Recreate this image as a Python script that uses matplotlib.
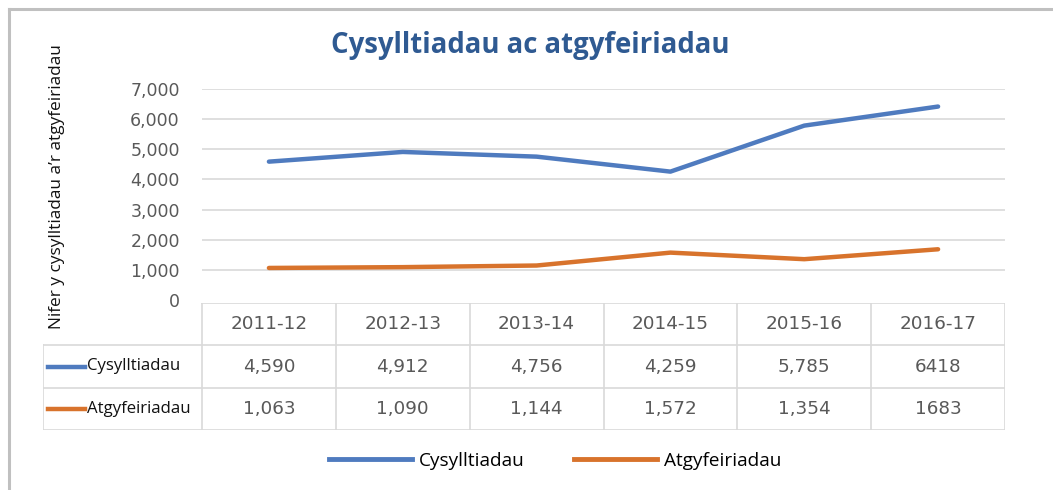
import matplotlib
matplotlib.use("Agg")
import matplotlib.pyplot as plt
from matplotlib.lines import Line2D
import numpy as np

plt.rcParams["font.family"] = ["Open Sans", "DejaVu Sans"]

# --- data ---
YEARS = ["2011-12", "2012-13", "2013-14", "2014-15", "2015-16", "2016-17"]
CYSYLLTIADAU = [4590, 4912, 4756, 4259, 5785, 6418]
ATGYFEIRIADAU = [1063, 1090, 1144, 1572, 1354, 1683]
# labels exactly as printed in the table
CYS_LABELS = ["4,590", "4,912", "4,756", "4,259", "5,785", "6418"]
ATG_LABELS = ["1,063", "1,090", "1,144", "1,572", "1,354", "1683"]
SERIES = ["Cysylltiadau", "Atgyfeiriadau"]
Y_TICKS = [0, 1000, 2000, 3000, 4000, 5000, 6000, 7000]

TITLE = "Cysylltiadau ac atgyfeiriadau"
YLABEL = "Nifer y cysylltiadau a\u2019r atgyfeiriadau"

BLUE = "#4f7bbf"
ORANGE = "#d8732c"
GRID = "#d9d9d9"
TICK_GREY = "#595959"
NUM_FONT = "DejaVu Sans"

W, H = 1053, 490
fig = plt.figure(figsize=(W / 100, H / 100), dpi=100)


def px_box(x0, y0, x1, y1):
    return [x0 / W, 1 - y1 / H, (x1 - x0) / W, (y1 - y0) / H]


# outer frame (left + top edges visible)
fig.add_artist(Line2D([9 / W, 9 / W], [0, 1 - 9 / H], transform=fig.transFigure,
                      color="#c0c0c0", linewidth=2.2))
fig.add_artist(Line2D([9 / W, 1], [1 - 9 / H, 1 - 9 / H], transform=fig.transFigure,
                      color="#c0c0c0", linewidth=2.2))

# --- main line chart ---
ax = fig.add_axes(px_box(202, 89, 1005, 300))
x = np.arange(len(YEARS))
ax.plot(x, CYSYLLTIADAU, color=BLUE, linewidth=3.2, solid_capstyle="round", zorder=3)
ax.plot(x, ATGYFEIRIADAU, color=ORANGE, linewidth=3.2, solid_capstyle="round", zorder=3)
ax.set_xlim(-0.5, len(YEARS) - 0.5)
ax.set_ylim(0, 7000)
ax.set_yticks(Y_TICKS)
ax.set_yticklabels([f"{v:,}" for v in Y_TICKS], color=TICK_GREY, fontsize=12.5,
                   family=NUM_FONT)
ax.tick_params(axis="y", length=0, pad=16)
ax.set_xticks([])
for v in Y_TICKS[1:]:
    ax.axhline(v, color=GRID, linewidth=1.2, zorder=1)
for s in ax.spines.values():
    s.set_visible(False)

fig.text(57 / W, 1 - 187 / H, YLABEL, rotation=90, ha="center", va="center",
         fontsize=12.4, color="#111111")
fig.text(530 / W, 1 - 45 / H, TITLE, ha="center", va="center", fontsize=19.8,
         fontweight="bold", color="#2f5a92")

# --- data table under the chart ---
tab = fig.add_axes(px_box(43, 303, 1005, 430))
col_w = (1005 - 202) / len(YEARS)
left = -0.5 - (202 - 43) / col_w
right = len(YEARS) - 0.5
tab.set_xlim(left, right)
tab.set_ylim(3, 0)
tab.axis("off")

lw = 1.2
# horizontal rules
tab.plot([-0.5, right], [0, 0], color=GRID, lw=lw)
for r in (1, 2, 3):
    tab.plot([left, right], [r, r], color=GRID, lw=lw)
# vertical rules
tab.plot([left, left], [1, 3], color=GRID, lw=lw)
for i in range(len(YEARS) + 1):
    tab.plot([i - 0.5, i - 0.5], [0, 3], color=GRID, lw=lw)

for i, yr in enumerate(YEARS):
    tab.text(i, 0.5, yr, ha="center", va="center", fontsize=13.2, color=TICK_GREY,
             family=NUM_FONT)
    tab.text(i, 1.5, CYS_LABELS[i], ha="center", va="center", fontsize=13.2,
             color=TICK_GREY, family=NUM_FONT)
    tab.text(i, 2.5, ATG_LABELS[i], ha="center", va="center", fontsize=13.2,
             color=TICK_GREY, family=NUM_FONT)

key0 = left + 5 / col_w
key1 = left + 42 / col_w
for r, (name, colr) in enumerate(zip(SERIES, [BLUE, ORANGE])):
    tab.plot([key0, key1], [1.5 + r, 1.5 + r], color=colr, lw=3.2)
    tab.text(key1 + 2 / col_w, 1.5 + r, name, ha="left", va="center",
             fontsize=12.1, color="#111111")

# --- bottom legend ---
handles = [Line2D([], [], color=BLUE, lw=3.5), Line2D([], [], color=ORANGE, lw=3.5)]
fig.legend(handles, SERIES, loc="center", bbox_to_anchor=(555 / W, 1 - 461 / H),
           ncol=2, frameon=False, fontsize=13.7, handlelength=4.35,
           handletextpad=0.37, columnspacing=2.6)

fig.savefig("out.png", dpi=100, facecolor="white")
